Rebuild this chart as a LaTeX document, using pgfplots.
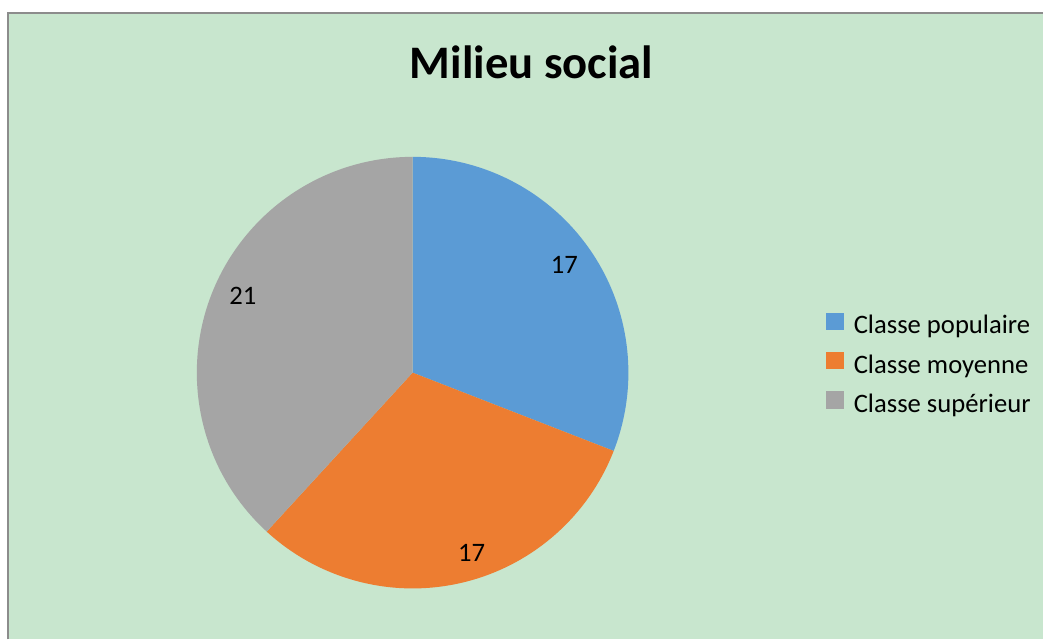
\documentclass[border=0pt]{standalone}
\usepackage{pgfplots}
\pgfplotsset{compat=1.18}
\usepackage{pgfplotstable}
\usepackage{fontspec}
\setmainfont{Carlito}
\definecolor{bg}{HTML}{C8E6CE}
\definecolor{cblue}{HTML}{5B9BD5}
\definecolor{corange}{HTML}{ED7D31}
\definecolor{cgray}{HTML}{A5A5A5}
\definecolor{framec}{HTML}{8C8C8C}

\pgfplotstableread{
label value
populaire 17
moyenne 17
superieur 21
}\piedata

\begin{document}
\begin{tikzpicture}
\pgfplotstablegetelem{0}{value}\of\piedata \let\va\pgfplotsretval
\pgfplotstablegetelem{1}{value}\of\piedata \let\vb\pgfplotsretval
\pgfplotstablegetelem{2}{value}\of\piedata \let\vc\pgfplotsretval
\pgfmathsetmacro{\tot}{\va+\vb+\vc}
\pgfmathsetmacro{\aA}{90}
\pgfmathsetmacro{\aB}{90-360*\va/\tot}
\pgfmathsetmacro{\aC}{\aB-360*\vb/\tot}
\pgfmathsetmacro{\aD}{\aC-360*\vc/\tot}
\begin{axis}[
  scale only axis, width=783pt, height=480pt,
  xmin=0, xmax=1044, ymin=0, ymax=640,
  axis lines=none, clip=false,
  legend style={draw=none, fill=none, inner sep=0pt,
    font=\fontsize{20}{24}\selectfont,
    nodes={inner sep=0pt, text height=14pt, text depth=5pt},
    row sep=8.5pt, column sep=0pt,
    at={(axis cs:827,327.3)}, anchor=north west},
  legend cell align=left,
  legend image code/.code={\fill[#1,draw=none] (0pt,-1.5pt) rectangle (13pt,11.5pt); \path[draw=none,fill=none] (20.5pt,0pt) circle (0pt);},
]
\fill[white] (axis cs:0,0) rectangle (axis cs:1044,640);
\fill[bg] (axis cs:8,0) rectangle (axis cs:1044,627);
\draw[framec, line width=1.5pt] (axis cs:8,0) -- (axis cs:8,627) -- (axis cs:1044,627);
\node[font=\fontsize{35}{40}\selectfont\bfseries] at (axis cs:532,578) {Milieu social};
\fill[cblue] (axis cs:413,267) -- ++(\aA:162pt) arc[start angle=\aA, end angle=\aB, radius=162pt] -- cycle;
\fill[corange] (axis cs:413,267) -- ++(\aB:162pt) arc[start angle=\aB, end angle=\aC, radius=162pt] -- cycle;
\fill[cgray] (axis cs:413,267) -- ++(\aC:162pt) arc[start angle=\aC, end angle=\aD, radius=162pt] -- cycle;
\node[font=\fontsize{20}{24}\selectfont] at (axis cs:565,375) {\va};
\node[font=\fontsize{20}{24}\selectfont] at (axis cs:472,87) {\vb};
\node[font=\fontsize{20}{24}\selectfont] at (axis cs:243,344) {\vc};
\addlegendimage{fill=cblue}
\addlegendentry{Classe populaire}
\addlegendimage{fill=corange}
\addlegendentry{Classe moyenne}
\addlegendimage{fill=cgray}
\addlegendentry{Classe supérieur}
\end{axis}
\end{tikzpicture}
\end{document}
